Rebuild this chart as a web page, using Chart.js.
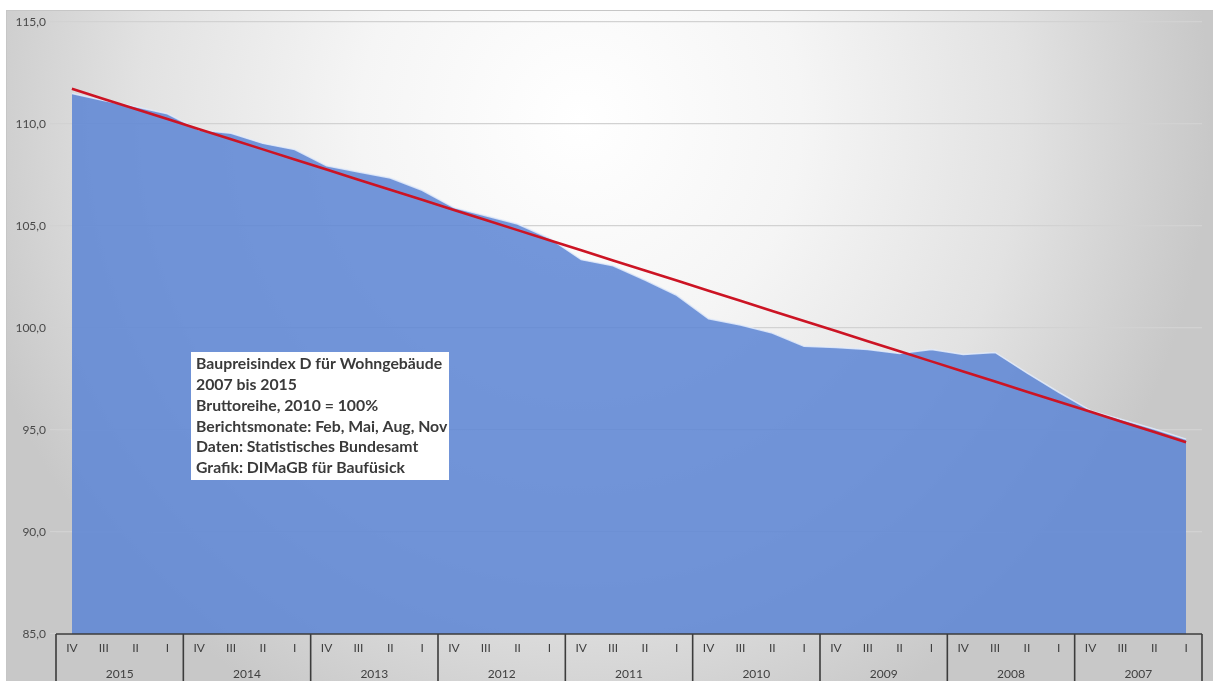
<!DOCTYPE html>
<html>
<head>
<meta charset="utf-8">
<title>Baupreisindex D für Wohngebäude 2007 bis 2015</title>
<script src="https://cdn.jsdelivr.net/npm/chart.js@4/dist/chart.umd.min.js"></script>
<style>
  html, body { margin: 0; padding: 0; background: #ffffff; }
  #frame {
    position: absolute; left: 6px; top: 10px; width: 1207px; height: 671px;
    background: radial-gradient(ellipse 630px 660px at 575px 110px, #ffffff 0%, #f5f5f5 35%, #e2e2e2 70%, #c8c8c8 100%);
    box-shadow: inset 1px 1px 0 #c6c6c6;
  }
  canvas { display: block; }
</style>
</head>
<body>
<div id="frame"><canvas id="chart" width="1207" height="671"></canvas></div>
<script>
// Baupreisindex D für Wohngebäude, Bruttoreihe 2010 = 100, newest quarter first
const years = ['2015', '2014', '2013', '2012', '2011', '2010', '2009', '2008', '2007'];
const quarters = ['IV', 'III', 'II', 'I'];
const indexValues = [
  111.5, 111.15, 110.85, 110.5,   // 2015
  109.7, 109.55, 109.05, 108.75,  // 2014
  107.95, 107.65, 107.35, 106.75, // 2013
  105.9, 105.5, 105.1, 104.4,     // 2012
  103.35, 103.05, 102.35, 101.6,  // 2011
  100.45, 100.15, 99.75, 99.1,    // 2010
  99.05, 98.95, 98.75, 98.95,     // 2009
  98.7, 98.8, 97.8, 96.85,        // 2008
  95.95, 95.5, 95.05, 94.55       // 2007
];
const yTicks = { min: 85, max: 115, step: 5 };
const noteLines = [
  'Baupreisindex D für Wohngebäude',
  '2007 bis 2015',
  'Bruttoreihe, 2010 = 100%',
  'Berichtsmonate: Feb, Mai, Aug, Nov',
  'Daten: Statistisches Bundesamt',
  'Grafik: DIMaGB für Baufüsick'
];

// category labels: one per quarter, grouped by year
const categories = [];
const quarterOf = [];
years.forEach(y => quarters.forEach(q => { categories.push(q + ' ' + y); quarterOf.push(q); }));

// linear trend (least squares) over the category index
function linearTrend(vals) {
  const n = vals.length;
  const mx = (n - 1) / 2;
  const my = vals.reduce((a, b) => a + b, 0) / n;
  let sxy = 0, sxx = 0;
  vals.forEach((v, i) => { sxy += (i - mx) * (v - my); sxx += (i - mx) * (i - mx); });
  const slope = sxy / sxx;
  return vals.map((_, i) => my + slope * (i - mx));
}
const trendValues = linearTrend(indexValues);

const FONT = 'Lato, "Open Sans", sans-serif';
const AXIS_COLOR = '#3c3c3c';

// year group frame beneath the plot: axis line and dividers between years
const yearFrame = {
  id: 'yearFrame',
  afterDraw(chart) {
    const { ctx, chartArea } = chart;
    const xs = chart.scales.x;
    const half = (xs.getPixelForValue(1) - xs.getPixelForValue(0)) / 2;
    const bottom = chart.height;
    ctx.save();
    ctx.strokeStyle = AXIS_COLOR;
    ctx.lineWidth = 1.6;
    ctx.beginPath();
    ctx.moveTo(chartArea.left, chartArea.bottom);
    ctx.lineTo(chartArea.right, chartArea.bottom);
    for (let k = 0; k <= years.length; k++) {
      const idx = Math.min(k * quarters.length, categories.length - 1);
      const x = k === years.length ? xs.getPixelForValue(idx) + half : xs.getPixelForValue(idx) - half;
      ctx.moveTo(x, chartArea.bottom);
      ctx.lineTo(x, bottom);
    }
    ctx.stroke();
    ctx.restore();
  }
};

// white note box with the chart description
const noteBox = {
  id: 'noteBox',
  afterDraw(chart) {
    const { ctx, chartArea } = chart;
    const x = chartArea.left + 135, y = chartArea.top + 330;
    const w = 258, h = 128, lh = 20.8;
    ctx.save();
    ctx.fillStyle = '#ffffff';
    ctx.fillRect(x, y, w, h);
    ctx.fillStyle = '#3a3a3a';
    ctx.font = 'bold 15.8px ' + FONT;
    ctx.textBaseline = 'middle';
    ctx.textAlign = 'left';
    noteLines.forEach((t, i) => ctx.fillText(t, x + 5, y + 12 + i * lh));
    ctx.restore();
  }
};

new Chart(document.getElementById('chart'), {
  type: 'line',
  data: {
    labels: categories,
    datasets: [
      {
        label: 'Trend',
        data: trendValues,
        borderColor: '#cc1424',
        borderWidth: 2.6,
        pointRadius: 0,
        fill: false,
        tension: 0,
        order: 0
      },
      {
        label: 'Baupreisindex',
        data: indexValues,
        backgroundColor: 'rgba(94, 134, 212, 0.87)',
        borderColor: 'rgba(228, 236, 250, 0.85)',
        borderWidth: 1.5,
        pointRadius: 0,
        fill: 'start',
        tension: 0,
        order: 1
      }
    ]
  },
  options: {
    responsive: false,
    animation: false,
    layout: { padding: { top: 12, right: 11, left: 0, bottom: 0 } },
    plugins: { legend: { display: false }, tooltip: { enabled: false } },
    scales: {
      x: {
        type: 'category',
        offset: true,
        weight: 0,
        grid: { display: false, drawTicks: false },
        border: { display: false },
        ticks: {
          autoSkip: false, maxRotation: 0, padding: 7,
          color: '#404040', font: { family: FONT, size: 12 },
          callback: (v, i) => quarterOf[i]
        },
        afterFit: s => { s.height = 28; }
      },
      x2: {
        type: 'category',
        labels: years,
        position: 'bottom',
        offset: true,
        weight: 1,
        grid: { display: false, drawTicks: false },
        border: { display: false },
        ticks: { autoSkip: false, maxRotation: 0, padding: 5, color: '#404040', font: { family: FONT, size: 12 } },
        afterFit: s => { s.height = 19; }
      },
      y: {
        min: yTicks.min,
        max: yTicks.max,
        grid: { color: '#d2d2d2', lineWidth: 1.2, tickLength: 6 },
        border: { display: false },
        ticks: {
          stepSize: yTicks.step, padding: 4,
          color: '#4a4a4a', font: { family: FONT, size: 12 },
          callback: v => v.toFixed(1).replace('.', ',')
        },
        afterFit: s => { s.width = 50; }
      }
    }
  },
  plugins: [yearFrame, noteBox]
});
</script>
</body>
</html>
